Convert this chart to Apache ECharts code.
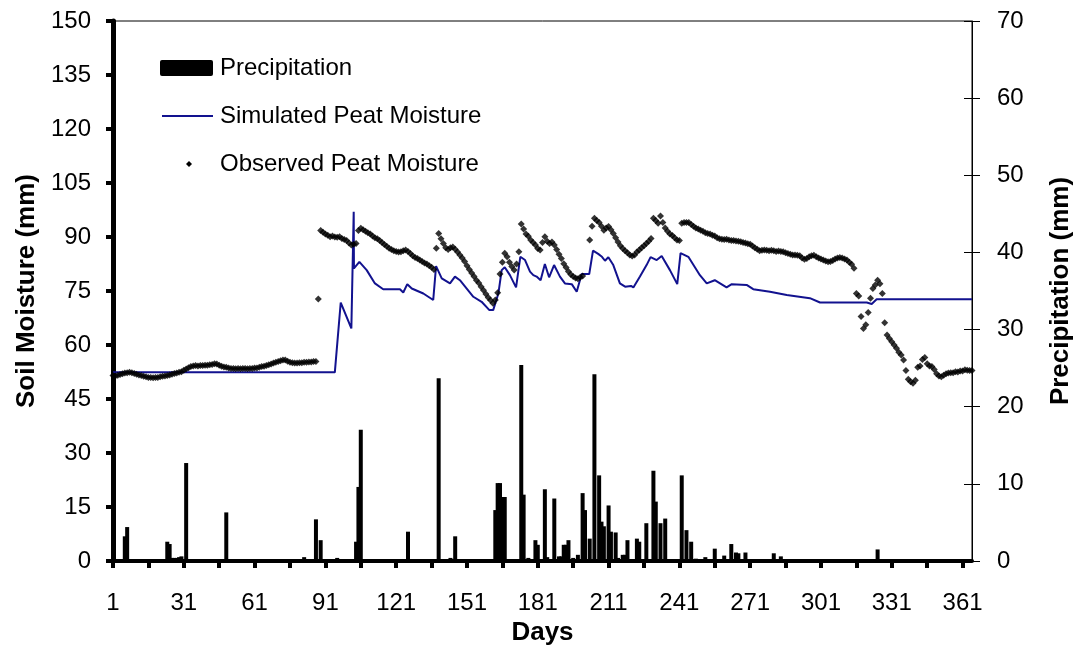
<!DOCTYPE html>
<html>
<head>
<meta charset="utf-8">
<script src="https://cdn.jsdelivr.net/npm/echarts@6/dist/echarts.min.js"></script>
<style>
html,body{margin:0;padding:0;background:#fff}
#c{width:1078px;height:647px}
</style>
</head>
<body>
<div id="c"></div>
<script>
// ---------------- DATA ----------------
const xTickDays = [1,16,31,46,61,76,91,106,121,136,151,166,181,196,211,226,241,256,271,286,301,316,331,346,361];
const xLabelDays = [1,31,61,91,121,151,181,211,241,271,301,331,361];

// Precipitation (mm), right axis
const precipDays = [6,7,24,25,26,27,28,29,30,32,49,82,87,89,96,104,105,106,126,139,144,146,
  163,164,165,166,167,174,175,177,180,181,184,185,188,190,191,192,193,194,196,198,200,201,203,
  205,207,208,209,211,212,214,215,217,218,219,223,224,227,230,231,233,235,242,244,246,248,252,
  256,260,263,265,266,269,281,284,325];
const precipValues = [3.2,4.4,2.5,2.2,0.4,0.4,0.4,0.5,0.6,12.7,6.3,0.5,5.4,2.7,0.4,2.5,9.6,17.0,3.8,23.7,0.4,3.2,
  6.6,10.1,10.1,8.3,8.3,25.4,8.6,0.4,2.7,2.1,9.3,0.5,8.1,0.6,0.6,2.1,2.1,2.7,0.4,0.8,8.8,6.6,2.9,
  24.2,11.1,5.1,4.5,7.2,3.8,3.7,0.4,0.8,0.8,2.7,2.9,2.5,4.9,11.7,7.7,4.9,5.5,11.1,4.0,2.5,0.3,0.5,
  1.6,0.7,2.2,1.1,1.0,1.1,1.0,0.6,1.5];

// Simulated peat moisture (mm) – vertices of the simulated curve
const simDays = [1,95,97.5,102,103,103.1,105.4,108.5,112,115.5,122.6,124,125.7,127.6,132.5,136.7,137.9,140.3,143.8,
  145.9,148,153.7,157.2,160.5,162.1,164.3,165.7,167,169.2,171.8,173.6,175.6,177.7,179.1,180.5,182.2,184,185.8,
  187.9,190.4,192.5,195.4,197.5,199.6,202.8,204.4,206.6,208.2,209.5,210.9,213,215.8,218,220.5,221.5,224.3,227.1,
  228.8,231.4,233.5,237,240.1,241.5,244.8,249.7,252.6,256,261,263.2,269.5,272.3,279.4,286.5,296.3,300.6,320.4,
  322.5,324.6,365];
const simValues = [52.4,52.4,71.8,64.6,97.0,81.3,83.1,80.8,77.1,75.5,75.5,74.6,76.9,75.7,74.3,72.5,81.9,78.5,77.1,
  79.0,78.0,73.4,72.0,69.7,69.7,74.3,80.8,81.6,79.4,76.0,84.5,83.6,80.4,79.4,79.0,78.0,82.5,78.8,
  82.2,79.0,77.1,76.9,74.8,79.7,79.7,86.2,85.3,84.5,83.4,84.4,82.2,77.1,76.2,76.4,76.0,79.0,82.2,
  84.4,83.6,84.7,80.8,76.9,85.5,84.5,79.4,77.1,78.0,76.0,76.9,76.7,75.5,74.8,73.9,73.0,71.8,71.8,
  71.4,72.7,72.7];

// Observed peat moisture (mm), one value per day starting at day 1 (null = no observation)
const observed = [
  51.5,51.4,51.6,51.8,52.0,52.2,52.3,52.4,52.3,52.1,
  51.9,51.7,51.5,51.3,51.2,51.0,51.0,50.9,51.0,51.0,
  51.2,51.3,51.4,51.5,51.7,51.9,52.1,52.2,52.4,52.6,
  53.0,53.3,53.7,54.0,54.2,54.3,54.2,54.3,54.3,54.4,
  54.4,54.5,54.6,54.8,54.7,54.4,54.1,53.9,53.8,53.6,
  53.5,53.5,53.4,53.5,53.4,53.5,53.5,53.4,53.5,53.5,
  53.6,53.6,53.8,54.0,54.1,54.3,54.5,54.7,55.0,55.2,
  55.4,55.6,55.8,55.8,55.5,55.2,55.1,55.0,55.0,55.1,
  55.1,55.2,55.2,55.3,55.3,55.4,55.4,72.8,91.8,91.3,
  90.8,90.5,90.1,90.3,90.0,89.9,90.1,89.6,89.3,89.0,
  88.3,87.8,88.0,88.2,91.8,92.4,92.0,91.6,91.2,90.8,
  90.3,89.8,89.5,89.0,88.5,87.9,87.4,86.9,86.5,86.2,
  86.0,85.8,85.9,86.2,86.4,86.0,85.4,84.8,84.3,84.0,
  83.6,83.2,82.8,82.5,82.0,81.6,81.0,86.9,91.0,89.5,
  88.2,87.0,86.5,87.0,87.2,86.6,85.8,85.0,84.2,83.2,
  82.0,81.0,80.0,79.0,78.0,77.2,76.2,75.2,74.2,73.2,
  72.4,71.6,72.5,74.5,79.7,83.0,85.5,84.5,83.0,81.8,
  80.8,82.5,85.9,93.6,92.2,90.8,90.2,89.2,88.5,87.8,
  86.8,86.4,88.5,90.1,88.8,88.2,88.6,87.8,86.5,85.2,
  84.0,82.6,81.5,80.4,79.6,79.0,78.6,78.4,78.8,79.2,
  null,null,89.2,93.0,95.2,94.6,94.0,93.0,91.9,92.5,
  92.9,92.0,91.0,89.8,88.6,87.6,86.8,86.2,85.6,85.0,
  84.7,85.0,85.8,86.4,87.0,87.6,88.2,88.8,89.6,95.2,
  94.6,93.8,95.8,94.0,92.5,91.6,90.8,90.4,89.8,89.2,
  89.0,93.8,94.0,94.0,94.0,93.5,93.0,92.5,92.2,91.9,
  91.6,91.2,91.0,90.8,90.5,90.3,89.8,89.5,89.4,89.3,
  89.4,89.2,89.0,89.0,88.9,88.8,88.7,88.5,88.3,88.1,
  88.0,87.5,87.0,86.6,86.2,86.3,86.4,86.3,86.2,86.3,
  86.2,86.0,86.1,86.0,85.9,85.6,85.4,85.2,85.0,85.0,
  84.9,84.8,84.2,83.8,84.0,84.5,84.8,84.9,84.5,84.2,
  83.9,83.6,83.3,83.1,83.2,83.5,83.9,84.2,84.3,84.2,
  83.9,83.6,83.0,82.4,81.3,74.3,73.6,67.9,64.6,65.6,
  69.0,73.0,75.7,76.7,78.0,77.0,74.3,66.2,62.8,61.8,
  60.9,60.0,59.1,58.0,57.2,55.8,52.9,50.5,49.8,49.4,
  50.2,53.8,54.2,56.0,56.5,54.8,54.2,54.0,53.2,52.0,
  51.4,51.2,51.6,52.0,52.2,52.3,52.3,52.6,52.5,52.8,
  52.8,53.1,53.0,52.9,52.9
];

// ---------------- CHART ----------------
const FONT = "'Liberation Sans', Arial, sans-serif";
const SIM_COLOR = '#12128f';
const FS = 24;
const TFS = 26;

const precipData = precipDays.map((d, i) => [d, precipValues[i]]);
const simData = simDays.map((d, i) => [d, simValues[i]]);
const obsData = [];
observed.forEach((v, i) => { if (v !== null) obsData.push([i + 1, v]); });

const chart = echarts.init(document.getElementById('c'), null, {renderer: 'canvas'});
chart.setOption({
  animation: false,
  backgroundColor: '#fff',
  textStyle: {fontFamily: FONT, color: '#000'},
  grid: {left: 113, right: 106, top: 21, bottom: 86, show: true, borderColor: '#000', borderWidth: 1,
         backgroundColor: 'transparent', containLabel: false, outerBoundsMode: 'none'},
  xAxis: {
    type: 'value', min: 1, max: 365,
    name: 'Days', nameLocation: 'middle', nameGap: 58,
    nameTextStyle: {fontSize: TFS, fontWeight: 'bold', color: '#000', fontFamily: FONT},
    axisLine: {show: true, onZero: false, lineStyle: {color: '#000', width: 4}},
    axisTick: {show: true, customValues: xTickDays, length: 7, lineStyle: {color: '#000', width: 4}},
    axisLabel: {customValues: xLabelDays, margin: 30, fontSize: FS, color: '#000', fontFamily: FONT},
    splitLine: {show: false}
  },
  yAxis: [
    {
      type: 'value', min: 0, max: 150, interval: 15, position: 'left',
      name: 'Soil Moisture (mm)', nameLocation: 'middle', nameRotate: 90, nameGap: 72,
      nameTextStyle: {fontSize: TFS, fontWeight: 'bold', color: '#000', fontFamily: FONT},
      axisLine: {show: true, onZero: false, lineStyle: {color: '#000', width: 5}},
      axisTick: {show: true, length: 7, lineStyle: {color: '#000', width: 4}},
      axisLabel: {margin: 22, fontSize: FS, color: '#000', fontFamily: FONT},
      splitLine: {show: false}
    },
    {
      type: 'value', min: 0, max: 70, interval: 10, position: 'right',
      name: 'Precipitation (mm)', nameLocation: 'middle', nameRotate: 90, nameGap: 76,
      nameTextStyle: {fontSize: TFS, fontWeight: 'bold', color: '#000', fontFamily: FONT},
      axisLine: {show: true, onZero: false, lineStyle: {color: '#000', width: 1}},
      axisTick: {show: true, length: 8, lineStyle: {color: '#000', width: 1}},
      axisLabel: {margin: 25, fontSize: FS, color: '#000', fontFamily: FONT},
      splitLine: {show: false}
    },
    {
      type: 'value', min: 0, max: 70, interval: 10, position: 'right',
      axisLine: {show: false, onZero: false},
      axisTick: {show: true, inside: true, length: 8, lineStyle: {color: '#000', width: 1}},
      axisLabel: {show: false},
      splitLine: {show: false}
    }
  ],
  series: [
    {
      name: 'Precipitation', type: 'bar', yAxisIndex: 1, data: precipData,
      barWidth: 4, itemStyle: {color: '#000'}, z: 2
    },
    {
      name: 'Simulated Peat Moisture', type: 'line', yAxisIndex: 0, data: simData,
      symbol: 'none', lineStyle: {color: SIM_COLOR, width: 2}, z: 3
    },
    {
      name: 'Observed Peat Moisture', type: 'scatter', yAxisIndex: 0, data: obsData,
      symbol: 'diamond', symbolSize: 7, itemStyle: {color: '#000'}, z: 4
    }
  ],
  graphic: [
    {type: 'rect', shape: {x: 160, y: 60, width: 53, height: 16, r: 2}, style: {fill: '#000'}},
    {type: 'text', x: 220, y: 68, style: {text: 'Precipitation', fontSize: FS, fontFamily: FONT, fill: '#000', verticalAlign: 'middle'}},
    {type: 'line', shape: {x1: 162, y1: 116, x2: 213, y2: 116}, style: {stroke: SIM_COLOR, lineWidth: 2}},
    {type: 'text', x: 220, y: 116, style: {text: 'Simulated Peat Moisture', fontSize: FS, fontFamily: FONT, fill: '#000', verticalAlign: 'middle'}},
    {type: 'polygon', shape: {points: [[189, 161], [192, 164], [189, 167], [186, 164]]}, style: {fill: '#000'}},
    {type: 'text', x: 220, y: 164, style: {text: 'Observed Peat Moisture', fontSize: FS, fontFamily: FONT, fill: '#000', verticalAlign: 'middle'}}
  ]
});
</script>
</body>
</html>
